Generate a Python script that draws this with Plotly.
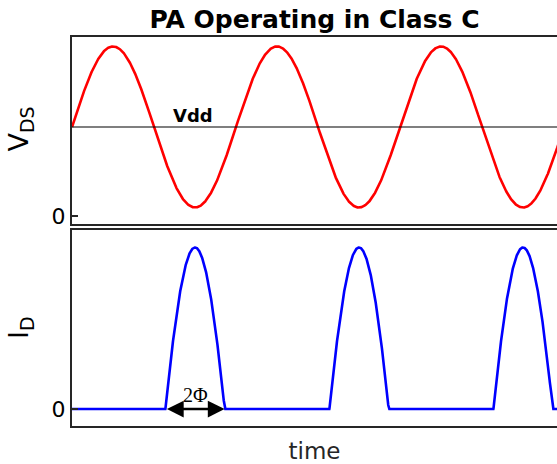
import numpy as np
import plotly.graph_objects as go

# --- waveform parameters (time in RF cycles) ---
vdd = 1.0              # supply level (y of the Vdd line)
v_amplitude = 0.905    # swing of V_DS around Vdd
i_peak = 1.0           # peak drain current
conduction_deg = 130   # 2*Phi, conduction angle of the class C pulse
cycles_shown = 2.957   # visible span of the time axis
v_range = [-0.09, 2.011]
i_range = [-0.105, 1.105]
y_ticks = [0]
y_ticktext = ["0"]

t = np.linspace(0, 3.0, 3001)
phi = np.deg2rad(conduction_deg / 2)

v_ds = vdd + v_amplitude * np.sin(2 * np.pi * t)
# drain current: clipped cosine centred on the V_DS minimum
cos_part = np.cos(2 * np.pi * (t - 0.75))
i_d = i_peak * np.clip((cos_part - np.cos(phi)) / (1 - np.cos(phi)), 0, None)

AXIS_COL = "#262626"
FONT = "DejaVu Sans"
W, H = 557, 464

fig = go.Figure()
fig.add_trace(go.Scatter(x=t, y=v_ds, mode="lines", line=dict(color="#ff0000", width=2.6),
                         xaxis="x", yaxis="y", showlegend=False, hoverinfo="skip"))
fig.add_trace(go.Scatter(x=[t[0], t[-1]], y=[vdd, vdd], mode="lines", line=dict(color="black", width=1.2),
                         xaxis="x", yaxis="y", showlegend=False, hoverinfo="skip"))
fig.add_trace(go.Scatter(x=t, y=i_d, mode="lines", line=dict(color="#0000ff", width=2.6),
                         xaxis="x2", yaxis="y2", showlegend=False, hoverinfo="skip"))

xaxis_common = dict(range=[0, cycles_shown], showgrid=False, zeroline=False, showticklabels=False,
                    ticks="", showline=True, linecolor=AXIS_COL, linewidth=2, mirror=True)
yaxis_common = dict(showgrid=False, zeroline=False, showline=True, linecolor=AXIS_COL, linewidth=2,
                    mirror=False, tickvals=y_ticks, ticktext=y_ticktext, ticks="inside", ticklen=6,
                    tickwidth=1.5, tickcolor=AXIS_COL, ticklabelstandoff=0,
                    tickfont=dict(family=FONT, size=22, color="black"))

fig.update_layout(
    width=W, height=H,
    margin=dict(l=72, r=0, t=37, b=38),
    plot_bgcolor="white", paper_bgcolor="white",
    title=dict(text="<b>PA Operating in Class C</b>", x=0.5, xref="paper", xanchor="center",
               y=1 - 19 / H, yanchor="middle", yref="container",
               font=dict(family=FONT, size=25, color="black")),
    xaxis=dict(domain=[0, 1], anchor="y", **xaxis_common),
    yaxis=dict(domain=[0.5193, 1], anchor="x", range=v_range, **yaxis_common),
    xaxis2=dict(domain=[0, 1], anchor="y2", title=dict(text="time", font=dict(family=FONT, size=23, color="#262626"),
                                                        standoff=18), **xaxis_common),
    yaxis2=dict(domain=[0, 0.5026], anchor="x2", range=i_range, **yaxis_common),
)

# y-axis labels
fig.add_annotation(text="V<sub>DS</sub>", xref="paper", yref="paper", x=0, y=0.762, xshift=-51,
                   xanchor="center", yanchor="middle", textangle=-90, showarrow=False,
                   font=dict(family=FONT, size=27, color="black"))
fig.add_annotation(text="I<sub>D</sub>", xref="paper", yref="paper", x=0, y=0.252, xshift=-51,
                   xanchor="center", yanchor="middle", textangle=-90, showarrow=False,
                   font=dict(family=FONT, size=27, color="black"))

# Vdd label
fig.add_annotation(text="<b>Vdd</b>", x=0.735, y=vdd, xref="x", yref="y", yanchor="bottom", yshift=-1,
                   showarrow=False, font=dict(family=FONT, size=18, color="black"))

# conduction-angle arrow
half = conduction_deg / 360 / 2
fig.add_annotation(x=0.75 + half, y=0, ax=0.75 - half, ay=0, xref="x2", yref="y2", axref="x2", ayref="y2",
                   text="", showarrow=True, arrowhead=2, arrowside="end+start", arrowsize=1.4,
                   arrowwidth=2.4, arrowcolor="black")
fig.add_annotation(text="2\u03a6", x=0.75, y=0, xref="x2", yref="y2", yanchor="bottom", yshift=1,
                   showarrow=False, font=dict(family="Liberation Serif", size=20, color="black"))

# drop the default 8px page margin so the figure fills the window
fig.write_html("out.html", config={"displayModeBar": False},
               post_script="document.body.style.margin='0px';")
